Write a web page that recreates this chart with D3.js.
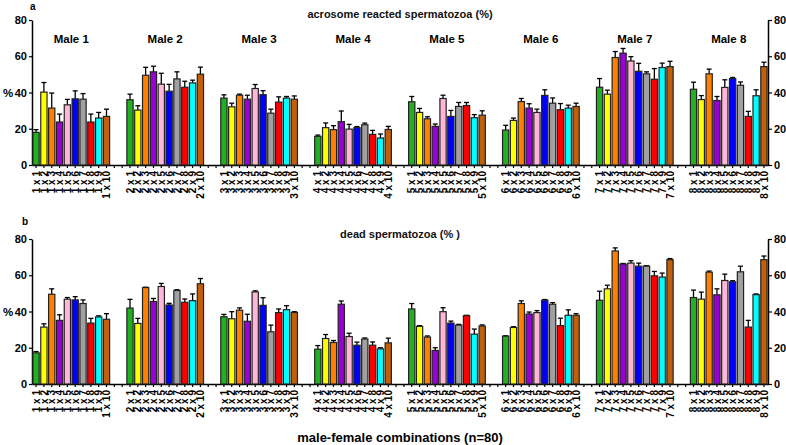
<!DOCTYPE html>
<html>
<head>
<meta charset="utf-8">
<script src="https://cdn.jsdelivr.net/npm/d3@7"></script>
<style>
  body { margin: 0; background: #fff; }
  svg { display: block; font-family: Arial, "Liberation Sans", sans-serif; }
</style>
</head>
<body>
<svg id="chart" width="786" height="445"></svg>
<script>
// males x females, 10 females per male
const males = [1, 2, 3, 4, 5, 6, 7, 8];
const females = [1, 2, 3, 4, 5, 6, 7, 8, 9, 10];
const femaleColors = ["#22b022", "#ffff00", "#ff8000", "#9900d6", "#ffb6d9",
                      "#0000ff", "#a0a0a0", "#ff0000", "#00ffff", "#c0600a"];
const yTicks = [0, 20, 40, 60, 80];

// acrosome reacted spermatozoa (%) - mean and SEM (upper only)
const acrMean = [
  18.0, 40.2, 31.4, 23.7, 33.2, 36.5, 36.3, 23.7, 25.9, 26.8,
  36.0, 30.3, 49.5, 51.4, 44.6, 40.7, 47.5, 42.9, 45.3, 50.1,
  36.9, 32.1, 38.5, 36.3, 42.2, 38.8, 28.6, 34.7, 36.9, 36.3,
  15.8, 20.6, 19.5, 23.9, 19.8, 20.6, 22.2, 16.9, 14.9, 19.6,
  34.9, 29.0, 25.5, 21.3, 36.7, 26.8, 32.3, 32.8, 26.1, 27.5,
  19.3, 24.6, 35.0, 31.4, 29.0, 38.4, 34.1, 30.5, 31.4, 32.3,
  42.9, 39.1, 59.3, 61.7, 57.4, 51.7, 50.3, 47.3, 53.8, 54.3,
  41.8, 36.1, 50.3, 35.6, 42.8, 47.7, 44.0, 26.8, 38.2, 54.3
];
const acrErr = [
  1.5, 5.3, 8.3, 4.4, 3.0, 4.4, 3.1, 4.4, 3.1, 4.0,
  3.1, 2.4, 4.4, 3.1, 6.0, 3.8, 3.9, 3.3, 1.5, 3.9,
  1.8, 2.0, 0.6, 2.2, 2.2, 2.2, 2.2, 2.9, 0.9, 1.8,
  0.7, 2.6, 2.2, 5.9, 2.6, 0.6, 0.9, 2.2, 2.2, 1.7,
  2.9, 2.2, 1.1, 1.3, 1.8, 3.3, 2.2, 1.7, 1.7, 2.4,
  2.6, 1.3, 1.7, 2.4, 1.8, 3.1, 2.9, 3.4, 1.6, 1.8,
  4.8, 2.2, 3.3, 2.6, 2.4, 4.4, 1.1, 5.9, 2.4, 2.9,
  3.9, 2.2, 2.6, 2.2, 4.2, 0.6, 1.8, 2.8, 3.3, 2.4
];

// dead spermatozoa (%)
const deadMean = [
  17.2, 31.4, 49.5, 35.1, 46.8, 46.4, 44.4, 33.6, 37.0, 35.7,
  41.9, 33.4, 53.2, 45.5, 53.8, 43.6, 51.6, 45.1, 46.0, 55.3,
  37.1, 36.0, 40.7, 34.6, 50.8, 43.4, 28.8, 39.4, 41.0, 39.5,
  19.2, 25.1, 22.9, 44.0, 26.2, 21.4, 24.8, 21.4, 19.4, 22.7,
  41.4, 31.8, 25.9, 18.5, 39.9, 33.6, 32.5, 37.7, 27.5, 32.0,
  26.4, 31.2, 44.4, 38.6, 39.4, 46.2, 44.0, 32.2, 37.9, 37.9,
  46.2, 52.5, 73.4, 66.2, 66.7, 65.0, 65.0, 59.7, 59.0, 68.6,
  47.7, 46.8, 61.7, 49.2, 57.1, 56.4, 61.9, 31.4, 49.3, 68.6
];
const deadErr = [
  0.7, 1.8, 3.0, 3.1, 0.9, 1.8, 2.0, 2.6, 0.6, 3.1,
  4.8, 2.8, 0.2, 1.7, 1.7, 0.9, 0.4, 1.8, 3.7, 2.9,
  1.3, 3.9, 1.3, 3.9, 0.6, 4.2, 3.7, 2.0, 2.2, 0.4,
  2.0, 2.2, 1.1, 1.8, 1.8, 1.7, 0.6, 1.8, 0.6, 2.6,
  3.0, 0.4, 0.6, 1.5, 2.2, 1.1, 0.4, 0.2, 2.8, 0.6,
  0.2, 0.4, 1.5, 1.1, 1.1, 0.4, 0.9, 4.1, 3.0, 0.9,
  5.0, 2.0, 1.7, 0.3, 1.3, 1.7, 0.3, 2.4, 2.2, 0.6,
  4.1, 3.9, 0.6, 3.3, 3.5, 0.6, 3.1, 3.7, 0.4, 2.0
];

const svg = d3.select("#chart");
const left = 32, right = 768;

// slots: 10 bars per male, 2 empty slots between males
const slots = [];
males.forEach((m, gi) => {
  females.forEach(f => slots.push(m + " x " + f));
  if (gi < males.length - 1) slots.push("gap" + gi + "a", "gap" + gi + "b");
});

const x = d3.scaleBand()
  .domain(slots)
  .range([left, right])
  .paddingInner(0.2)
  .paddingOuter(0.12);

const rows = [];
males.forEach((m, gi) => females.forEach((f, fi) => {
  rows.push({ male: m, female: f, key: m + " x " + f, fi: fi, idx: gi * 10 + fi });
}));

function panel(opts) {
  const y = d3.scaleLinear().domain([0, 80]).range([opts.y0, opts.y80]);
  const g = svg.append("g");

  g.append("text").text(opts.letter)
    .attr("x", opts.letterX).attr("y", opts.letterY)
    .attr("font-size", 10).attr("font-weight", "bold");

  g.append("text").text(opts.title)
    .attr("x", 400).attr("y", opts.titleY)
    .attr("text-anchor", "middle").attr("font-size", 11).attr("font-weight", "bold")
    .attr("fill", "#111");

  // x axis with a tick at every slot
  const xa = g.append("g")
    .attr("transform", `translate(0,${opts.y0})`)
    .call(d3.axisBottom(x).tickSize(3).tickSizeOuter(0)
      .tickFormat(d => d.startsWith("gap") ? "" : d));
  xa.selectAll("text")
    .attr("transform", "rotate(-90)")
    .attr("x", -6).attr("y", 0).attr("dy", "0.36em")
    .attr("text-anchor", "end")
    .attr("font-size", 10).attr("font-weight", "bold").attr("fill", "#000")
    .attr("font-family", "Arial, 'Liberation Sans', sans-serif");

  const yl = g.append("g")
    .attr("transform", `translate(${left},0)`)
    .call(d3.axisLeft(y).tickValues(yTicks).tickSize(3).tickPadding(2).tickSizeOuter(0));
  const yr = g.append("g")
    .attr("transform", `translate(${right},0)`)
    .call(d3.axisRight(y).tickValues(yTicks).tickSize(4).tickPadding(2).tickSizeOuter(0));
  [xa, yl, yr].forEach(a => {
    a.select(".domain").attr("stroke", "#000").attr("stroke-width", 1.5);
    a.selectAll(".tick line").attr("stroke", "#000").attr("stroke-width", 1.2);
  });
  [yl, yr].forEach(a => a.selectAll("text")
    .attr("font-size", 11).attr("font-weight", "bold").attr("fill", "#000")
    .attr("font-family", "Arial, 'Liberation Sans', sans-serif"));

  g.append("text").text("%")
    .attr("x", 8).attr("y", y(40)).attr("dy", "0.35em")
    .attr("text-anchor", "middle").attr("font-size", 11.5).attr("font-weight", "bold");

  // error bars (upper only)
  const eb = g.append("g");
  rows.forEach(r => {
    const cx = x(r.key) + x.bandwidth() / 2;
    const top = y(opts.mean[r.idx] + opts.err[r.idx]);
    eb.append("line")
      .attr("x1", cx).attr("x2", cx)
      .attr("y1", y(opts.mean[r.idx])).attr("y2", top)
      .attr("stroke", "#000").attr("stroke-width", 1.3);
    eb.append("line")
      .attr("x1", cx - 2.5).attr("x2", cx + 2.5)
      .attr("y1", top).attr("y2", top)
      .attr("stroke", "#000").attr("stroke-width", 1.3);
  });

  g.append("g").selectAll("rect")
    .data(rows)
    .join("rect")
    .attr("x", d => x(d.key))
    .attr("width", x.bandwidth())
    .attr("y", d => y(opts.mean[d.idx]))
    .attr("height", d => opts.y0 - y(opts.mean[d.idx]))
    .attr("fill", d => femaleColors[d.fi])
    .attr("stroke", "#222").attr("stroke-width", 1.2);

  if (opts.maleLabels) {
    males.forEach(m => {
      const x0 = x(m + " x 1"), x1 = x(m + " x 10") + x.bandwidth();
      g.append("text").text("Male " + m)
        .attr("x", (x0 + x1) / 2).attr("y", opts.maleY)
        .attr("text-anchor", "middle").attr("font-size", 11.5).attr("font-weight", "bold");
    });
  }
}

panel({ letter: "a", letterX: 30, letterY: 10, title: "acrosome reacted spermatozoa (%)", titleY: 18,
        y0: 165, y80: 20, mean: acrMean, err: acrErr, maleLabels: true, maleY: 43 });
panel({ letter: "b", letterX: 22, letterY: 225, title: "dead spermatozoa (% )", titleY: 238,
        y0: 384, y80: 239, mean: deadMean, err: deadErr, maleLabels: false });

svg.append("text").text("male-female combinations (n=80)")
  .attr("x", 400).attr("y", 442)
  .attr("text-anchor", "middle").attr("font-size", 13).attr("font-weight", "bold");
</script>
</body>
</html>
